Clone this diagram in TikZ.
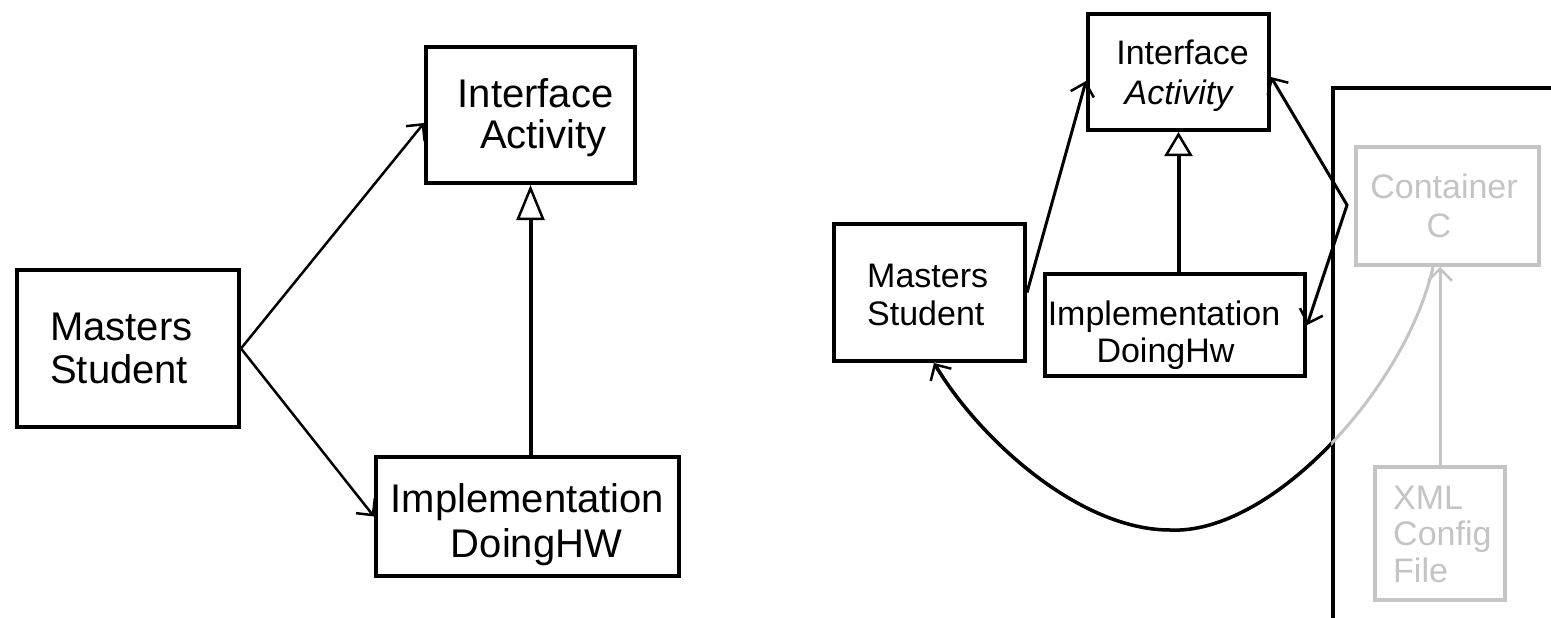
\documentclass[tikz,border=0pt]{standalone}
\usepackage{fontspec}
\setmainfont{Liberation Sans}
\usetikzlibrary{arrows.meta}
\definecolor{faint}{RGB}{196,196,196}
\tikzset{barb/.tip={Straight Barb[length=12pt,width=24pt,line width=2.5pt]}}
\begin{document}
\begin{tikzpicture}[x=1pt,y=-1pt,
  box/.style={draw, line width=4pt, inner sep=0pt},
  fbox/.style={box, draw=faint},
  bigtxt/.style={font=\fontsize{40}{44}\selectfont, inner sep=0pt},
  smalltxt/.style={font=\fontsize{34}{38}\selectfont, inner sep=0pt},
  assoc/.style={line width=2.5pt, -{barb}},
  realize/.style={line width=4pt, -{Triangle[open,length=#1,width=28pt,line width=2.5pt,fill=white]}},
]
\path[use as bounding box, fill=white] (0,0) rectangle (1551,618);
\clip (0,0) rectangle (1551,618);

% ---------- left diagram ----------
\node[box, minimum width=209pt, minimum height=136pt] (ia1) at (530.5,115) {};
\node[box, minimum width=222pt, minimum height=157pt] (ms1) at (128,348.5) {};
\node[box, minimum width=303pt, minimum height=119pt] (im1) at (527.5,516.5) {};

\node[bigtxt, anchor=base] (ia1a) at (535.5,107) {Interface};
\node[bigtxt, anchor=base] (ia1b) at (543.5,148) {Activity};
\node[bigtxt, anchor=base west] (ms1a) at (50,340) {Masters};
\node[bigtxt, anchor=base west] (ms1b) at (50,383) {Student};
\node[bigtxt, anchor=base] (im1a) at (527.5,512) {Implementation};
\node[bigtxt, anchor=base] (im1b) at (536.5,557) {DoingHW};

\draw[assoc] (ms1.east) -- ([yshift=-8pt]ia1.west);
\draw[assoc] (ms1.east) -- (im1.west);
\draw[realize=35pt] (ia1.south |- im1.north) -- (ia1.south);

% ---------- right diagram ----------
\node[box, minimum width=181pt, minimum height=116pt] (ia2) at (1178.5,72) {};
\node[box, minimum width=191pt, minimum height=137pt] (ms2) at (929.5,292.5) {};
\node[box, minimum width=260pt, minimum height=102pt] (im2) at (1175,325) {};
\node[fbox, minimum width=183pt, minimum height=118pt] (cc) at (1447.5,206) {};
\node[fbox, minimum width=130pt, minimum height=133pt] (xml) at (1440,533.5) {};

\node[smalltxt, anchor=base] (ia2a) at (1182.5,65) {Interface};
\node[smalltxt, anchor=base] (ia2b) at (1178.5,104) {\itshape Activity};
\node[smalltxt, anchor=base west] (ms2a) at (867,287) {Masters};
\node[smalltxt, anchor=base west] (ms2b) at (867,325) {Student};
\node[smalltxt, anchor=base] (im2a) at (1164,325) {Implementation};
\node[smalltxt, anchor=base] (im2b) at (1165.5,362) {DoingHw};
\node[smalltxt, anchor=base, text=faint] (cca) at (1444,198) {Container};
\node[smalltxt, anchor=base, text=faint] (ccb) at (1439,237) {C};
\node[smalltxt, anchor=base west, text=faint] (xmla) at (1393,509) {XML};
\node[smalltxt, anchor=base west, text=faint] (xmlb) at (1393,545) {Config};
\node[smalltxt, anchor=base west, text=faint] (xmlc) at (1393,582) {File};

% container frame running off the page
\node[box, minimum width=400pt, minimum height=650pt, anchor=north west] (cont) at (1331,86) {};

\draw[realize=24pt] (ia2.south |- im2.north) -- (ia2.south);
\draw[assoc, line width=3pt] (ms2.east) -- ([yshift=-9pt]ia2.west);

\coordinate (pc) at (1347,205);
\draw[line width=3pt, {barb}-{barb}]
  ([yshift=-5pt]ia2.east) -- (pc) -- (im2.east);

\draw[line width=3pt, draw=faint, -{barb}]
  (xml.north) -- (xml.north |- cc.south);

% dependency curve: faint inside the container, black outside it
\def\depcurve{([xshift=-14.5pt]cc.south) .. controls (1405,390) and (1270,535) .. (1170,530)
  .. controls (1080,530) and (980,440) .. ([xshift=4.5pt]ms2.south)}
\draw[line width=3pt, draw=faint] \depcurve;
\begin{scope}
  \clip (0,0) rectangle (cont.west |- 0,618);
  \draw[line width=3.5pt, -{barb}] \depcurve;
\end{scope}
\end{tikzpicture}
\end{document}
